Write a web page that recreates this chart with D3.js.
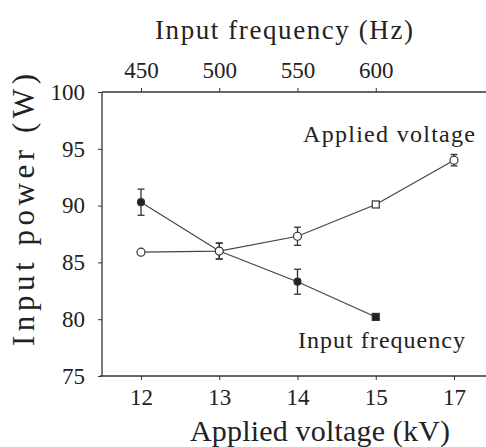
<!DOCTYPE html>
<html><head><meta charset="utf-8">
<script src="https://cdn.jsdelivr.net/npm/d3@7"></script>
<style>
body{margin:0;background:#fff;}
</style></head>
<body>
<svg id="chart" width="486" height="447"></svg>
<script>
// Data
const voltageCategories = ["12","13","14","15","17"];
const voltagePower = [85.9, 86.0, 87.3, 90.1, 94.0];
const voltageErr = [0, 0.7, 0.8, 0.2, 0.5];
const voltageMarker = ["circle","circle","circle","square","circle"];

const freqValues = [450, 500, 550, 600];
const freqPower = [90.3, 86.0, 83.3, 80.2];
const freqErr = [1.15, 0.7, 1.1, 0];
const freqMarker = ["circle","circle","circle","square"];

const yTicks = [75, 80, 85, 90, 95, 100];
const topTicks = [450, 500, 550, 600];

(function(){
const svg = d3.select("#chart");
const ink = "#333";
const serif = "Liberation Serif";

const x = d3.scalePoint().domain(voltageCategories).range([141, 454]);
const xf = d3.scaleLinear().domain([450, 600]).range([x("12"), x("15")]);
const y = d3.scaleLinear().domain([75, 100]).range([376, 92]);

const pLeft = 102, pRight = 486, pTop = 92, pBottom = 376;

// axes
const gL = svg.append("g").attr("transform", `translate(${pLeft},0)`)
  .call(d3.axisLeft(y).tickValues(yTicks).tickSize(4).tickSizeOuter(0).tickPadding(13));
const gB = svg.append("g").attr("transform", `translate(0,${pBottom})`)
  .call(d3.axisBottom(x).tickSize(4).tickSizeOuter(0).tickPadding(9));
const gT = svg.append("g").attr("transform", `translate(0,${pTop})`)
  .call(d3.axisTop(xf).tickValues(topTicks).tickSize(4).tickSizeOuter(0).tickPadding(10));
[gL, gB, gT].forEach(g => {
  g.attr("font-family", serif).attr("font-size", 23);
  g.select(".domain").remove();
  g.selectAll(".tick line").attr("stroke", ink).attr("stroke-width", 1);
  g.selectAll(".tick text").attr("font-family", serif).attr("font-size", 23).attr("fill", "#222");
});
// axis lines
svg.append("line").attr("x1", pLeft).attr("x2", pLeft).attr("y1", pTop).attr("y2", pBottom).attr("stroke", ink).attr("stroke-width", 1.3);
svg.append("line").attr("x1", pLeft - 2).attr("x2", pRight).attr("y1", pBottom).attr("y2", pBottom).attr("stroke", ink).attr("stroke-width", 1.3);
svg.append("line").attr("x1", pLeft).attr("x2", pRight).attr("y1", pTop).attr("y2", pTop).attr("stroke", ink).attr("stroke-width", 1.3);

function drawSeries(xs, vals, errs, markers, filled) {
  const pts = vals.map((v, i) => ({x: xs[i], y: y(v), v, e: errs[i], m: markers[i]}));
  svg.append("path").datum(pts)
    .attr("d", d3.line().x(d => d.x).y(d => d.y))
    .attr("fill", "none").attr("stroke", "#444").attr("stroke-width", 1.2);
  const eb = svg.append("g");
  pts.filter(d => d.e > 0).forEach(d => {
    const y1 = y(d.v + d.e), y2 = y(d.v - d.e);
    eb.append("line").attr("x1", d.x).attr("x2", d.x).attr("y1", y1).attr("y2", y2).attr("stroke", "#333").attr("stroke-width", 1.3);
    [y1, y2].forEach(yy => eb.append("line").attr("x1", d.x - 3.5).attr("x2", d.x + 3.5).attr("y1", yy).attr("y2", yy).attr("stroke", "#333").attr("stroke-width", 1.3));
  });
  pts.forEach(d => {
    if (d.m === "square") {
      svg.append("rect").attr("x", d.x - 3.5).attr("y", d.y - 3.5).attr("width", 7).attr("height", 7)
        .attr("fill", filled ? "#222" : "#fff").attr("stroke", "#333").attr("stroke-width", 1.2);
    } else {
      svg.append("circle").attr("cx", d.x).attr("cy", d.y).attr("r", filled ? 3.5 : 4)
        .attr("fill", filled ? "#222" : "#fff").attr("stroke", "#333").attr("stroke-width", 1.2);
    }
  });
}

drawSeries(freqValues.map(f => xf(f)), freqPower, freqErr, freqMarker, true);
drawSeries(voltageCategories.map(c => x(c)), voltagePower, voltageErr, voltageMarker, false);

// titles
function label(px, py, size, len, str, anchor, rot) {
  const t = svg.append("text").attr("font-family", serif).attr("fill", "#222")
    .attr("font-size", size).attr("text-anchor", anchor)
    .attr("textLength", len).attr("lengthAdjust", "spacing").text(str);
  if (rot) t.attr("transform", `translate(${px},${py}) rotate(-90)`);
  else t.attr("x", px).attr("y", py);
}
label(284, 39, 27, 258, "Input frequency (Hz)", "middle");
label(320, 441, 30, 260, "Applied voltage (kV)", "middle");
label(34, 210, 31, 272, "Input power (W)", "middle", true);
// annotations
label(303, 142, 24, 172, "Applied voltage", "start");
label(298, 348, 24, 167, "Input frequency", "start");
})();
</script>
</body></html>
